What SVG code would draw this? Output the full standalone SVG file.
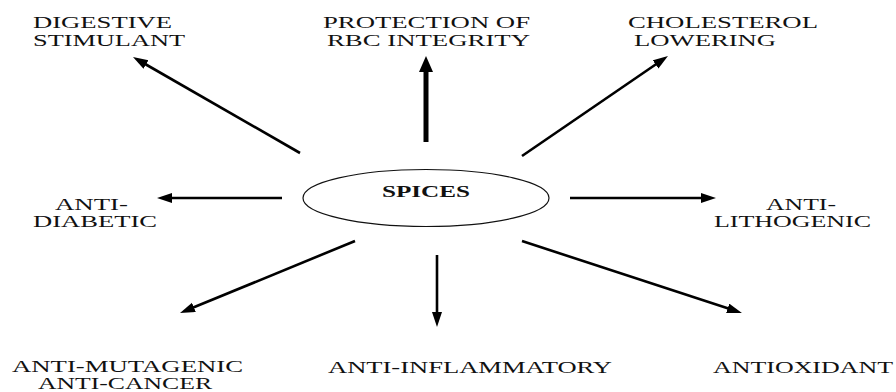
<svg xmlns="http://www.w3.org/2000/svg" width="896" height="392" viewBox="0 0 896 392">
<style>
.lbl{font-family:'Liberation Serif','DejaVu Serif',serif;font-size:16px;fill:#111}
.c{stroke:#000;stroke-width:2.6;fill:none}
.thick{stroke-width:5}
</style>
<defs>
<marker id="ah" markerUnits="userSpaceOnUse" markerWidth="16" markerHeight="11" refX="4" refY="5" orient="auto">
<path d="M0,0 L15,5 L0,10 z" fill="#000"/>
</marker>
<marker id="ahT" markerUnits="userSpaceOnUse" markerWidth="17" markerHeight="15" refX="4" refY="7" orient="auto">
<path d="M0,0 L16,7 L0,14 z" fill="#000"/>
</marker>
</defs>
<rect width="896" height="392" fill="#fff"/>
<g id="connectors">
<line class="c" x1="300" y1="153" x2="142.5" y2="62.5" marker-end="url(#ah)"/>
<line class="c thick" x1="426" y1="142" x2="426" y2="68" marker-end="url(#ahT)"/>
<line class="c" x1="522" y1="156" x2="658.9" y2="62.2" marker-end="url(#ah)"/>
<line class="c" x1="282" y1="198" x2="168" y2="198" marker-end="url(#ah)"/>
<line class="c" x1="570" y1="198" x2="705" y2="198" marker-end="url(#ah)"/>
<line class="c" x1="355" y1="241" x2="190.2" y2="308.8" marker-end="url(#ah)"/>
<line class="c" x1="437" y1="255" x2="437" y2="316" marker-end="url(#ah)"/>
<line class="c" x1="522" y1="241" x2="731.5" y2="309.6" marker-end="url(#ah)"/>
</g>
<g id="spices">
<ellipse cx="426" cy="198" rx="123" ry="28.5" fill="#fff" stroke="#111" stroke-width="1.2"/>
<text x="382" y="197" font-family="'Liberation Serif','DejaVu Serif',serif" font-size="16" font-weight="bold" fill="#111" textLength="88" lengthAdjust="spacingAndGlyphs">SPICES</text>
</g>
<g id="digestive">
<text class="lbl" x="33" y="28" textLength="139" lengthAdjust="spacingAndGlyphs">DIGESTIVE</text>
<text class="lbl" x="33" y="46" textLength="152" lengthAdjust="spacingAndGlyphs">STIMULANT</text>
</g>
<g id="protection">
<text class="lbl" x="323" y="28" textLength="207" lengthAdjust="spacingAndGlyphs">PROTECTION OF</text>
<text class="lbl" x="327" y="46" textLength="203" lengthAdjust="spacingAndGlyphs">RBC INTEGRITY</text>
</g>
<g id="cholesterol">
<text class="lbl" x="628" y="28" textLength="190" lengthAdjust="spacingAndGlyphs">CHOLESTEROL</text>
<text class="lbl" x="634" y="46" textLength="142" lengthAdjust="spacingAndGlyphs">LOWERING</text>
</g>
<g id="antidiabetic">
<text class="lbl" x="55" y="210" textLength="73" lengthAdjust="spacingAndGlyphs">ANTI-</text>
<text class="lbl" x="33" y="227" textLength="124" lengthAdjust="spacingAndGlyphs">DIABETIC</text>
</g>
<g id="antilithogenic">
<text class="lbl" x="766" y="210" textLength="70" lengthAdjust="spacingAndGlyphs">ANTI-</text>
<text class="lbl" x="714" y="227" textLength="157" lengthAdjust="spacingAndGlyphs">LITHOGENIC</text>
</g>
<g id="antimutagenic">
<text class="lbl" x="12" y="372" textLength="231" lengthAdjust="spacingAndGlyphs">ANTI-MUTAGENIC</text>
<text class="lbl" x="38" y="389" textLength="174" lengthAdjust="spacingAndGlyphs">ANTI-CANCER</text>
</g>
<g id="antiinflammatory">
<text class="lbl" x="328" y="373" textLength="284" lengthAdjust="spacingAndGlyphs">ANTI-INFLAMMATORY</text>
</g>
<g id="antioxidant">
<text class="lbl" x="713" y="373" textLength="180" lengthAdjust="spacingAndGlyphs">ANTIOXIDANT</text>
</g>
</svg>
